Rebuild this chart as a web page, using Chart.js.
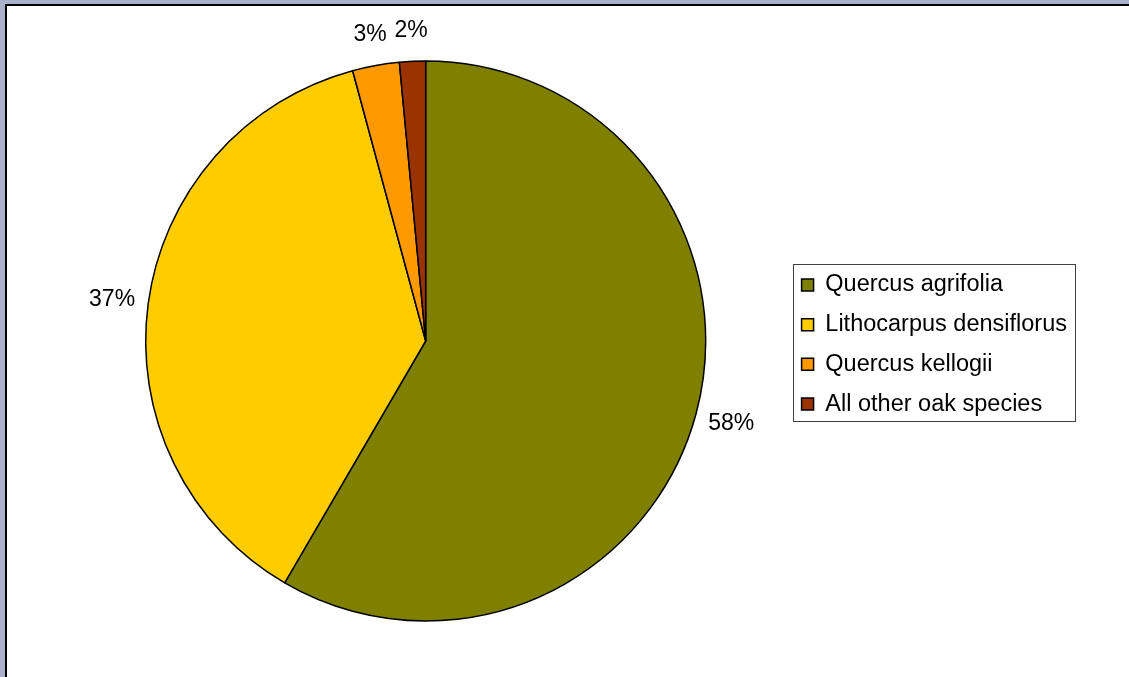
<!DOCTYPE html>
<html>
<head>
<meta charset="utf-8">
<script src="https://cdn.jsdelivr.net/npm/chart.js@4/dist/chart.umd.min.js"></script>
<style>
  html, body { margin: 0; padding: 0; background: #A9B0C9; overflow: hidden; }
  #frame {
    position: absolute; left: 5px; top: 4px;
    width: 1122px; height: 671px;
    border-left: 2px solid #000; border-top: 2px solid #000;
    background: #fff;
  }
  #chart { display: block; }
</style>
</head>
<body>
<div id="frame"><canvas id="chart" width="1122" height="671"></canvas></div>
<script>
// Oak species share
const species = ['Quercus agrifolia', 'Lithocarpus densiflorus', 'Quercus kellogii', 'All other oak species'];
const shares = [58.4, 37.4, 2.7, 1.5];
const sliceColors = ['#808000', '#FFCC00', '#FF9900', '#993300'];

const FONT = "'Liberation Sans', Arial, sans-serif";

// Percent labels just outside each slice, pushed out by the label's own extent
const outsideLabels = {
  id: 'outsideLabels',
  afterDatasetsDraw(chart) {
    const ctx = chart.ctx;
    const meta = chart.getDatasetMeta(0);
    const total = shares.reduce((a, b) => a + b, 0);
    ctx.save();
    ctx.font = '23px ' + FONT;
    ctx.fillStyle = '#000';
    ctx.textAlign = 'center';
    ctx.textBaseline = 'middle';
    meta.data.forEach((arc, i) => {
      const p = arc.getProps(['x', 'y', 'startAngle', 'endAngle', 'outerRadius'], true);
      const mid = (p.startAngle + p.endAngle) / 2;
      const txt = Math.round(shares[i] / total * 100) + '%';
      const halfW = ctx.measureText(txt).width / 2;
      const proj = halfW * Math.abs(Math.cos(mid)) + 8 * Math.abs(Math.sin(mid));
      const r = p.outerRadius + 28 + 0.35 * proj;
      ctx.fillText(txt, p.x + Math.cos(mid) * r, p.y + Math.sin(mid) * r);
    });
    ctx.restore();
  }
};

// Thin frame around the legend
const legendFrame = {
  id: 'legendFrame',
  afterDraw(chart) {
    const boxes = chart.legend && chart.legend.legendHitBoxes;
    if (!boxes || !boxes.length) return;
    let l = Infinity, t = Infinity, r = -Infinity, b = -Infinity;
    boxes.forEach(h => {
      l = Math.min(l, h.left); t = Math.min(t, h.top);
      r = Math.max(r, h.left + h.width); b = Math.max(b, h.top + h.height);
    });
    const ctx = chart.ctx;
    ctx.save();
    ctx.strokeStyle = '#404040';
    ctx.lineWidth = 1;
    ctx.strokeRect(Math.round(l - 9) + 0.5, Math.round(t - 9) + 0.5, Math.round(r - l + 17), Math.round(b - t + 14));
    ctx.restore();
  }
};

new Chart(document.getElementById('chart'), {
  type: 'pie',
  data: {
    labels: species,
    datasets: [{
      data: shares,
      backgroundColor: sliceColors,
      borderColor: '#000',
      borderWidth: 1.5
    }]
  },
  options: {
    responsive: false,
    animation: false,
    radius: 280,
    layout: { padding: { left: 59, right: 52, top: 0, bottom: 1 } },
    plugins: {
      tooltip: { enabled: false },
      legend: {
        position: 'right',
        title: { display: true, text: '', padding: 0, font: { size: 7, lineHeight: 1 } },
        labels: {
          boxWidth: 12,
          boxHeight: 12,
          padding: 16.2,
          color: '#000',
          font: { size: 23.5, family: FONT }
        }
      }
    }
  },
  plugins: [outsideLabels, legendFrame]
});
</script>
</body>
</html>
